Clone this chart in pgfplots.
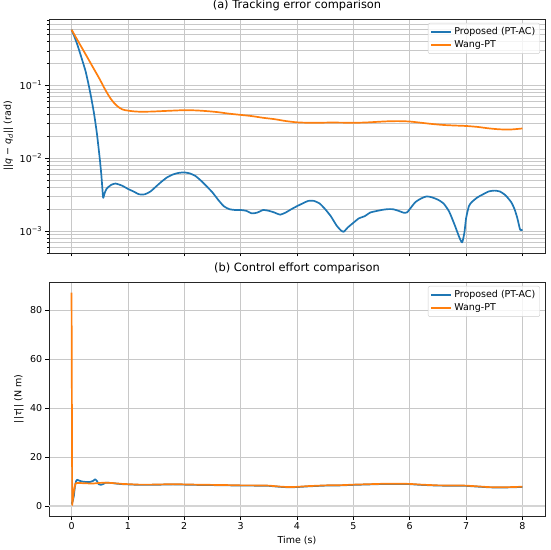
\documentclass[border=0pt]{standalone}
\usepackage{pgfplots}
\pgfplotsset{compat=1.18}
\usepackage{fontspec}
\setmainfont{DejaVu Sans}
\definecolor{mblue}{HTML}{1F77B4}
\definecolor{morange}{HTML}{FF7F0E}
\definecolor{mgrid}{HTML}{C8C8C8}
\definecolor{mzero}{HTML}{D4D4D4}

\pgfplotstableread{
t v
0.00 0.585
0.05 0.47
0.10 0.37
0.15 0.28
0.20 0.21
0.25 0.156
0.30 0.105
0.35 0.0676
0.40 0.0407
0.45 0.0219
0.50 0.0100
0.53 0.00575
0.56 0.0029
0.58 0.0032
0.62 0.0038
0.70 0.0043
0.78 0.0045
0.90 0.0042
1.00 0.0038
1.10 0.0035
1.20 0.0032
1.30 0.0032
1.40 0.0035
1.50 0.0041
1.60 0.0048
1.70 0.0055
1.80 0.0060
1.90 0.0063
2.00 0.0064
2.10 0.0062
2.20 0.0057
2.30 0.0049
2.40 0.0041
2.50 0.0034
2.60 0.0027
2.70 0.0022
2.80 0.0020
2.90 0.00195
3.00 0.00195
3.10 0.0019
3.20 0.00175
3.30 0.0018
3.40 0.00195
3.50 0.0019
3.60 0.0018
3.70 0.00168
3.80 0.0018
3.90 0.0020
4.00 0.0022
4.10 0.0024
4.20 0.0026
4.30 0.0026
4.40 0.0024
4.50 0.0020
4.60 0.0016
4.70 0.0012
4.78 0.00102
4.83 0.00098
4.90 0.00112
5.00 0.0013
5.10 0.0015
5.20 0.0016
5.30 0.0018
5.40 0.00188
5.50 0.00195
5.60 0.0020
5.70 0.0020
5.80 0.0019
5.90 0.00178
5.95 0.0018
6.00 0.0020
6.10 0.0025
6.20 0.0028
6.30 0.0030
6.40 0.0029
6.50 0.0027
6.60 0.0024
6.70 0.00185
6.80 0.0012
6.88 0.00082
6.93 0.0007
6.97 0.00095
7.00 0.0015
7.05 0.0022
7.10 0.0025
7.20 0.0029
7.30 0.0032
7.40 0.0035
7.50 0.0036
7.60 0.0035
7.70 0.0031
7.80 0.0025
7.86 0.0020
7.91 0.0015
7.96 0.00104
8.00 0.00105
}\propA

\pgfplotstableread{
t v
0.00 0.585
0.10 0.427
0.20 0.313
0.30 0.229
0.40 0.167
0.50 0.122
0.60 0.087
0.70 0.065
0.80 0.053
0.90 0.047
1.00 0.0452
1.10 0.0442
1.20 0.0437
1.40 0.0438
1.60 0.0445
1.80 0.0452
2.00 0.0458
2.20 0.0455
2.40 0.0445
2.60 0.0430
2.80 0.0410
3.00 0.0395
3.20 0.0380
3.40 0.0360
3.60 0.0345
3.80 0.0325
4.00 0.0312
4.20 0.0308
4.40 0.0308
4.60 0.0310
4.80 0.0309
5.00 0.0308
5.20 0.0310
5.40 0.0316
5.60 0.0322
5.80 0.0324
6.00 0.0320
6.20 0.0308
6.40 0.0296
6.60 0.0287
6.80 0.0282
7.00 0.0278
7.20 0.0270
7.40 0.0258
7.60 0.0250
7.80 0.0249
8.00 0.0257
}\wangA

\pgfplotstableread{
t v
0.00 1.0
0.02 2.0
0.04 4.0
0.06 8.0
0.08 10.2
0.10 10.8
0.13 10.5
0.18 10.1
0.25 9.9
0.33 9.9
0.38 10.3
0.42 11.0
0.45 10.3
0.48 9.0
0.52 8.7
0.56 9.0
0.60 9.6
0.70 9.5
0.80 9.2
0.90 9.0
1.00 8.9
1.20 8.7
1.40 8.7
1.60 8.8
1.80 8.9
2.00 8.8
2.20 8.7
2.50 8.6
2.80 8.5
3.00 8.4
3.20 8.4
3.50 8.3
3.70 7.9
3.85 7.7
4.00 7.8
4.20 8.1
4.50 8.4
4.80 8.5
5.00 8.7
5.30 8.9
5.60 9.1
5.90 9.05
6.00 9.0
6.20 8.7
6.50 8.4
6.80 8.35
7.00 8.3
7.20 8.0
7.40 7.7
7.60 7.6
7.80 7.7
8.00 7.85
}\propB

\pgfplotstableread{
t v
0.000 87.2
0.012 0.5
0.040 6.0
0.070 9.3
0.100 9.5
0.200 9.4
0.300 9.3
0.400 9.3
0.500 9.5
0.600 9.6
0.700 9.5
0.800 9.3
0.900 9.1
1.000 9.0
1.200 8.8
1.400 8.8
1.600 8.9
1.800 9.0
2.000 8.9
2.200 8.8
2.500 8.7
2.800 8.6
3.000 8.5
3.200 8.5
3.500 8.4
3.700 8.0
3.850 7.8
4.000 7.9
4.200 8.2
4.500 8.5
4.800 8.6
5.000 8.8
5.300 9.0
5.600 9.2
5.900 9.15
6.000 9.1
6.200 8.8
6.500 8.5
6.800 8.45
7.000 8.4
7.200 8.1
7.400 7.8
7.600 7.7
7.800 7.8
8.000 7.95
}\wangB

\begin{document}
\fontsize{9.5}{11}\selectfont
\begin{tikzpicture}
\useasboundingbox (0pt,0pt) rectangle (550pt,550pt);
\pgfplotsset{
  every axis/.append style={
    scale only axis, width=496pt, height=234pt,
    xmin=-0.4, xmax=8.4,
    xtick={0,1,2,3,4,5,6,7,8},
    xtick pos=lower, ytick pos=left,
    tick align=outside,
    major tick length=3.5pt, minor tick length=2pt,
    major tick style={black, line width=0.7pt},
    minor tick style={black, line width=0.5pt},
    axis line style={line width=0.7pt, black!85},
    xmajorgrids, ymajorgrids,
    grid style={mgrid, line width=0.7pt},
    /pgf/number format/assume math mode=true,
    ticklabel style={font=\fontsize{9.5}{11}\selectfont},
    label style={font=\fontsize{9.5}{11}\selectfont},
    title style={font=\fontsize{11.4}{13}\selectfont, yshift=-1pt},
    legend cell align=left,
    legend image code/.code={\draw[#1] (0pt,0pt) -- (20pt,0pt);},
    legend style={at={(1,1)}, anchor=north east, xshift=-5pt, yshift=-4pt,
      draw=black!20, rounded corners=2pt, fill=white, fill opacity=0.8,
      text opacity=1, font=\fontsize{9.5}{11}\selectfont,
      inner sep=2.5pt, row sep=0.5pt},
  }
}
\begin{axis}[
  at={(49pt,297pt)}, anchor=south west,
  ymode=log, ymin=5e-4, ymax=0.82,
  ytick={1e-3,1e-2,1e-1},
  yticklabels={10\textsuperscript{−3},10\textsuperscript{−2},10\textsuperscript{−1}},
  minor ytick={5e-4,6e-4,7e-4,8e-4,9e-4,2e-3,3e-3,4e-3,5e-3,6e-3,7e-3,8e-3,9e-3,0.02,0.03,0.04,0.05,0.06,0.07,0.08,0.09,0.2,0.3,0.4,0.5,0.6,0.7,0.8},
  yminorgrids,
  minor grid style={mgrid, line width=0.6pt},
  xticklabels={},
  title={(a) Tracking error comparison},
  ylabel={||\textit{q} − \textit{q}\textsubscript{\textit{d}}|| (rad)},
]
\addplot[mblue, line width=1.7pt, smooth, tension=0.35, line join=round] table[x=t,y=v]{\propA};
\addlegendentry{Proposed (PT-AC)}
\addplot[morange, line width=1.7pt, smooth, line join=round] table[x=t,y=v]{\wangA};
\addlegendentry{Wang-PT}
\end{axis}
\begin{axis}[
  at={(49pt,34pt)}, anchor=south west,
  ymin=-4, ymax=91.5,
  ytick={0,20,40,60,80},
  title={(b) Control effort comparison},
  xlabel={Time (s)},
  ylabel={||\textit{τ}|| (N m)},
]
\addplot[mzero, line width=2pt, forget plot] coordinates {(-0.4,0) (8.4,0)};
\addplot[mblue, line width=1.7pt, line join=round] table[x=t,y=v]{\propB};
\addlegendentry{Proposed (PT-AC)}
\addplot[morange, line width=1.7pt, line join=round] table[x=t,y=v]{\wangB};
\addlegendentry{Wang-PT}
\end{axis}
\end{tikzpicture}
\end{document}
